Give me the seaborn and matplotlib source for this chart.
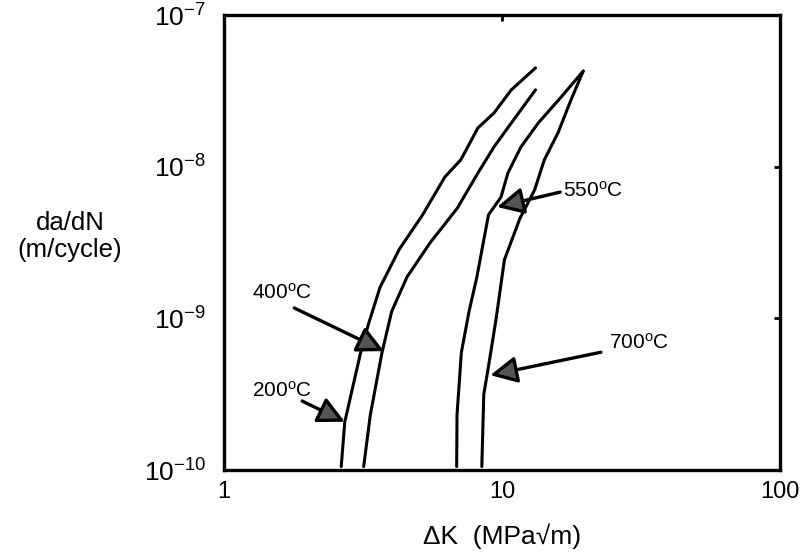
import numpy as np
import pandas as pd
import matplotlib
matplotlib.use("Agg")
import matplotlib.pyplot as plt
import seaborn as sns

# ---- data ----
dk_200 = [2.64, 2.72, 3.10, 3.30, 3.64, 4.27, 5.18, 6.23, 7.11, 8.19, 9.36, 10.8, 13.2]
da_200 = [1.054e-10, 2.08e-10, 5.93e-10, 9.02e-10, 1.60e-9, 2.85e-9, 4.81e-9,
          8.55e-9, 1.11e-8, 1.80e-8, 2.26e-8, 3.21e-8, 4.48e-8]

dk_400 = [3.18, 3.36, 3.70, 4.01, 4.55, 5.52, 6.91, 7.29, 8.19, 9.36, 10.8, 13.2]
da_400 = [1.054e-10, 2.31e-10, 5.93e-10, 1.11e-9, 1.87e-9, 3.16e-9, 5.33e-9,
          6.31e-9, 9.08e-9, 1.35e-8, 1.94e-8, 3.21e-8]

dk_550 = [6.87, 6.89, 7.14, 7.61, 8.12, 8.94, 9.92, 10.5, 11.7, 13.5, 16.3, 19.6]
da_550 = [1.054e-10, 2.31e-10, 5.93e-10, 1.11e-9, 1.87e-9, 4.81e-9, 6.31e-9,
          9.08e-9, 1.35e-8, 1.94e-8, 2.87e-8, 4.27e-8]

dk_700 = [8.46, 8.60, 8.94, 9.53, 10.2, 11.6, 13.1, 14.2, 15.9, 17.7, 19.6]
da_700 = [1.054e-10, 3.16e-10, 4.81e-10, 1.0e-9, 2.43e-9, 4.56e-9, 7.02e-9,
          1.11e-8, 1.67e-8, 2.75e-8, 4.27e-8]

temps = ["200", "400", "550", "700"]
labels = ["200$^{\\rm o}$C", "400$^{\\rm o}$C", "550$^{\\rm o}$C", "700$^{\\rm o}$C"]
label_pos = [(1.26, 3.33e-10), (1.26, 1.48e-9), (16.6, 6.9e-9), (24.3, 6.93e-10)]
arrow_tail = [(1.91, 2.85e-10), (1.79, 1.17e-9), (16.2, 6.8e-9), (22.7, 5.98e-10)]
arrow_tip = [(2.72, 2.08e-10), (3.76, 6.08e-10), (9.6, 5.42e-9), (9.08, 4.22e-10)]

x_ticks = [1, 10, 100]
x_ticklabels = ["1", "10", "100"]
y_ticks = [1e-10, 1e-9, 1e-8, 1e-7]
y_ticklabels = ["$10^{-10}$", "$10^{-9}$", "$10^{-8}$", "$10^{-7}$"]

# ---- build table ----
frames = []
for t, xs, ys in zip(temps, [dk_200, dk_400, dk_550, dk_700],
                     [da_200, da_400, da_550, da_700]):
    frames.append(pd.DataFrame({"dK": xs, "dadN": ys, "T": t}))
df = pd.concat(frames, ignore_index=True)

sns.set_theme(style="white")
plt.rcParams["font.family"] = ["Liberation Sans", "DejaVu Sans"]
plt.rcParams["mathtext.fontset"] = "custom"
plt.rcParams["mathtext.rm"] = "Liberation Sans"
plt.rcParams["mathtext.it"] = "Liberation Sans:italic"
plt.rcParams["mathtext.bf"] = "Liberation Sans:bold"

fig = plt.figure(figsize=(8.02, 5.56), dpi=100)
ax = fig.add_axes([224 / 802, 1 - 470 / 556, (780 - 224) / 802, (470 - 15) / 556])

sns.lineplot(data=df, x="dK", y="dadN", units="T", estimator=None, sort=False,
             color="black", lw=2.2, ax=ax, legend=False)

ax.set_xscale("log")
ax.set_yscale("log")
ax.set_xlim(1, 100)
ax.set_ylim(1e-10, 1e-7)
ax.set_xticks(x_ticks)
ax.set_xticklabels(x_ticklabels)
ax.set_yticks(y_ticks)
ax.set_yticklabels(y_ticklabels)
ax.minorticks_off()
ax.tick_params(axis="both", which="major", direction="in", length=4, width=2,
               top=True, right=True, color="black", labelcolor="black")
ax.tick_params(axis="y", pad=13, labelsize=19)
ax.tick_params(axis="x", pad=8, labelsize=17)

for s in ax.spines.values():
    s.set_linewidth(2.4)
    s.set_color("black")

ax.set_xlabel("\u0394K  (MPa\u221am)", fontsize=19, color="black")
ax.xaxis.set_label_coords(0.5, -0.118)
ax.set_ylabel("da/dN\n(m/cycle)", fontsize=18.5, rotation=0, ha="center", va="center",
              color="black", linespacing=1.15)
ax.yaxis.set_label_coords(-0.277, 0.514)

for lab, pos, tail, tip in zip(labels, label_pos, arrow_tail, arrow_tip):
    ax.text(pos[0], pos[1], lab, fontsize=15, ha="left", va="center", color="black")
    ax.annotate("", xy=tip, xytext=tail,
                arrowprops=dict(arrowstyle="-|>,head_length=0.9,head_width=0.45",
                                mutation_scale=18, lw=2.4, color="black",
                                fc="#555555", ec="black", shrinkA=0, shrinkB=0))

fig.savefig("out.png", dpi=100, facecolor="white")
